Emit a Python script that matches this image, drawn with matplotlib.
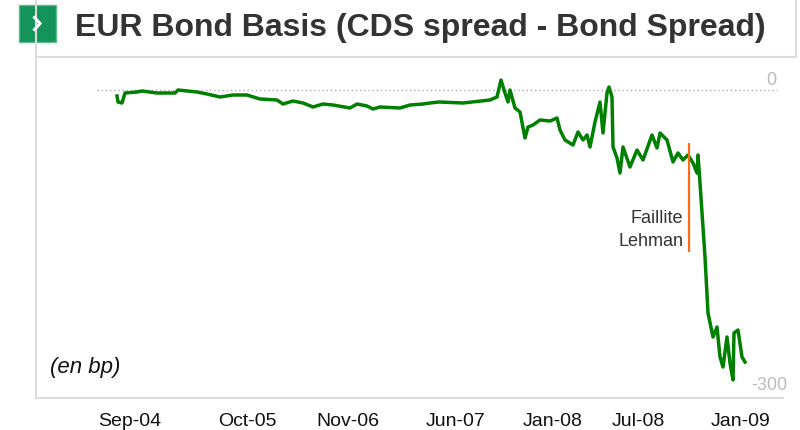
import matplotlib
matplotlib.use("Agg")
import matplotlib.pyplot as plt
from matplotlib.lines import Line2D
from matplotlib.patches import FancyBboxPatch

obs = [0, 1, 5, 8, 20, 25, 40, 58, 61, 80, 90, 103, 116, 130, 143, 160,
       166, 176, 186, 196, 206, 216, 233, 240, 250, 256, 263, 283, 293,
       306, 313, 322, 346, 373, 380, 384, 388, 391, 393, 398, 403, 408,
       411, 416, 423, 433, 440, 443, 448, 456, 461, 466, 470, 473, 478,
       483, 486, 490, 492, 495, 496, 500, 503, 506, 513, 520, 526, 535,
       540, 543, 550, 556, 561, 566, 571, 576, 580, 581, 583, 588, 591,
       596, 600, 603, 606, 610, 613, 616, 617, 621, 625, 628]
basis = [-6, -12, -13, -3, -2, -1, -3, -3, 0, -2, -4, -7, -5, -5, -9, -10,
         -14, -11, -13, -17, -14, -15, -18, -14, -16, -19, -17, -18, -15,
         -14, -13, -12, -13, -10, -7, 10, -3, -12, 0, -18, -22, -48,
         -37, -35, -30, -31, -28, -40, -50, -55, -42, -50, -45, -57, -32,
         -12, -43, -3, 3, -7, -57, -68, -83, -57, -77, -60, -70, -45,
         -58, -43, -50, -72, -63, -70, -65, -73, -83, -65, -93, -167, -223,
         -247, -237, -267, -277, -247, -273, -290, -243, -240, -267, -272]

tick_obs = [13, 130, 231, 339, 436, 521, 624]
tick_labels = ["Sep-04", "Oct-05", "Nov-06", "Jun-07", "Jan-08", "Jul-08", "Jan-09"]
lehman_obs = 572

plt.rcParams['font.family'] = ['Liberation Sans', 'DejaVu Sans']

W, H = 800, 430
fig = plt.figure(figsize=(8, 4.3), dpi=100)

def fx(px):
    return px / W

def fy(py):
    return 1 - py / H

# frame of the panel
gray = '#dcdcdc'
fig.add_artist(Line2D([fx(36), fx(36)], [fy(0), fy(398)], color=gray, lw=1.5))
fig.add_artist(Line2D([fx(36), fx(796)], [fy(57), fy(57)], color=gray, lw=1.5))
fig.add_artist(Line2D([fx(796), fx(796)], [fy(0), fy(57)], color=gray, lw=1.5))
fig.add_artist(Line2D([fx(36), fx(783)], [fy(398), fy(398)], color=gray, lw=1.5))

# green icon + title
icon = FancyBboxPatch((fx(19), fy(42)), fx(37), 37 / H, boxstyle="square,pad=0",
                      facecolor='#13945a', edgecolor='#5cb98a', lw=1,
                      transform=fig.transFigure)
fig.add_artist(icon)
fig.add_artist(Line2D([fx(34.5), fx(40), fx(34.5)], [fy(17.5), fy(23.5), fy(29.5)],
                      color='white', lw=2.2, solid_joinstyle='miter'))
fig.text(fx(75), fy(28), 'EUR Bond Basis (CDS spread - Bond Spread)',
         fontsize=23, fontweight='bold', color='#333333', ha='left', va='center')

# plot area
ax = fig.add_axes([fx(37), fy(398), (783 - 37) / W, (398 - 57) / H])
ax.set_xlim(37 - 117, 783 - 117)
ax.set_ylim(-308, 33)
for s in ax.spines.values():
    s.set_visible(False)
ax.set_yticks([])
ax.set_xticks(tick_obs)
ax.set_xticklabels(tick_labels, fontsize=14, color='#111111')
ax.tick_params(axis='x', length=0, pad=11)

ax.hlines(0, -20, 660, colors='#aaaaaa', linestyles=(0, (1, 2)), lw=1)
ax.text(654, 1, '0', color='#bbbbbb', fontsize=13, ha='center', va='bottom')
ax.text(670, -295, '-300', color='#bbbbbb', fontsize=13, ha='right', va='center')

ax.plot(obs, basis, color='#008000', lw=2.5, solid_joinstyle='round')

ax.vlines(lehman_obs, -162, -53, colors='#ff6a13', lw=1.6)
ax.text(lehman_obs - 6, -140, 'Faillite\nLehman', color='#333333', fontsize=13,
        ha='right', va='center', linespacing=1.45)

ax.text(-67, -278, '(en bp)', fontsize=16, style='italic', color='#111111',
        ha='left', va='center')

fig.savefig('out.png', dpi=100)
